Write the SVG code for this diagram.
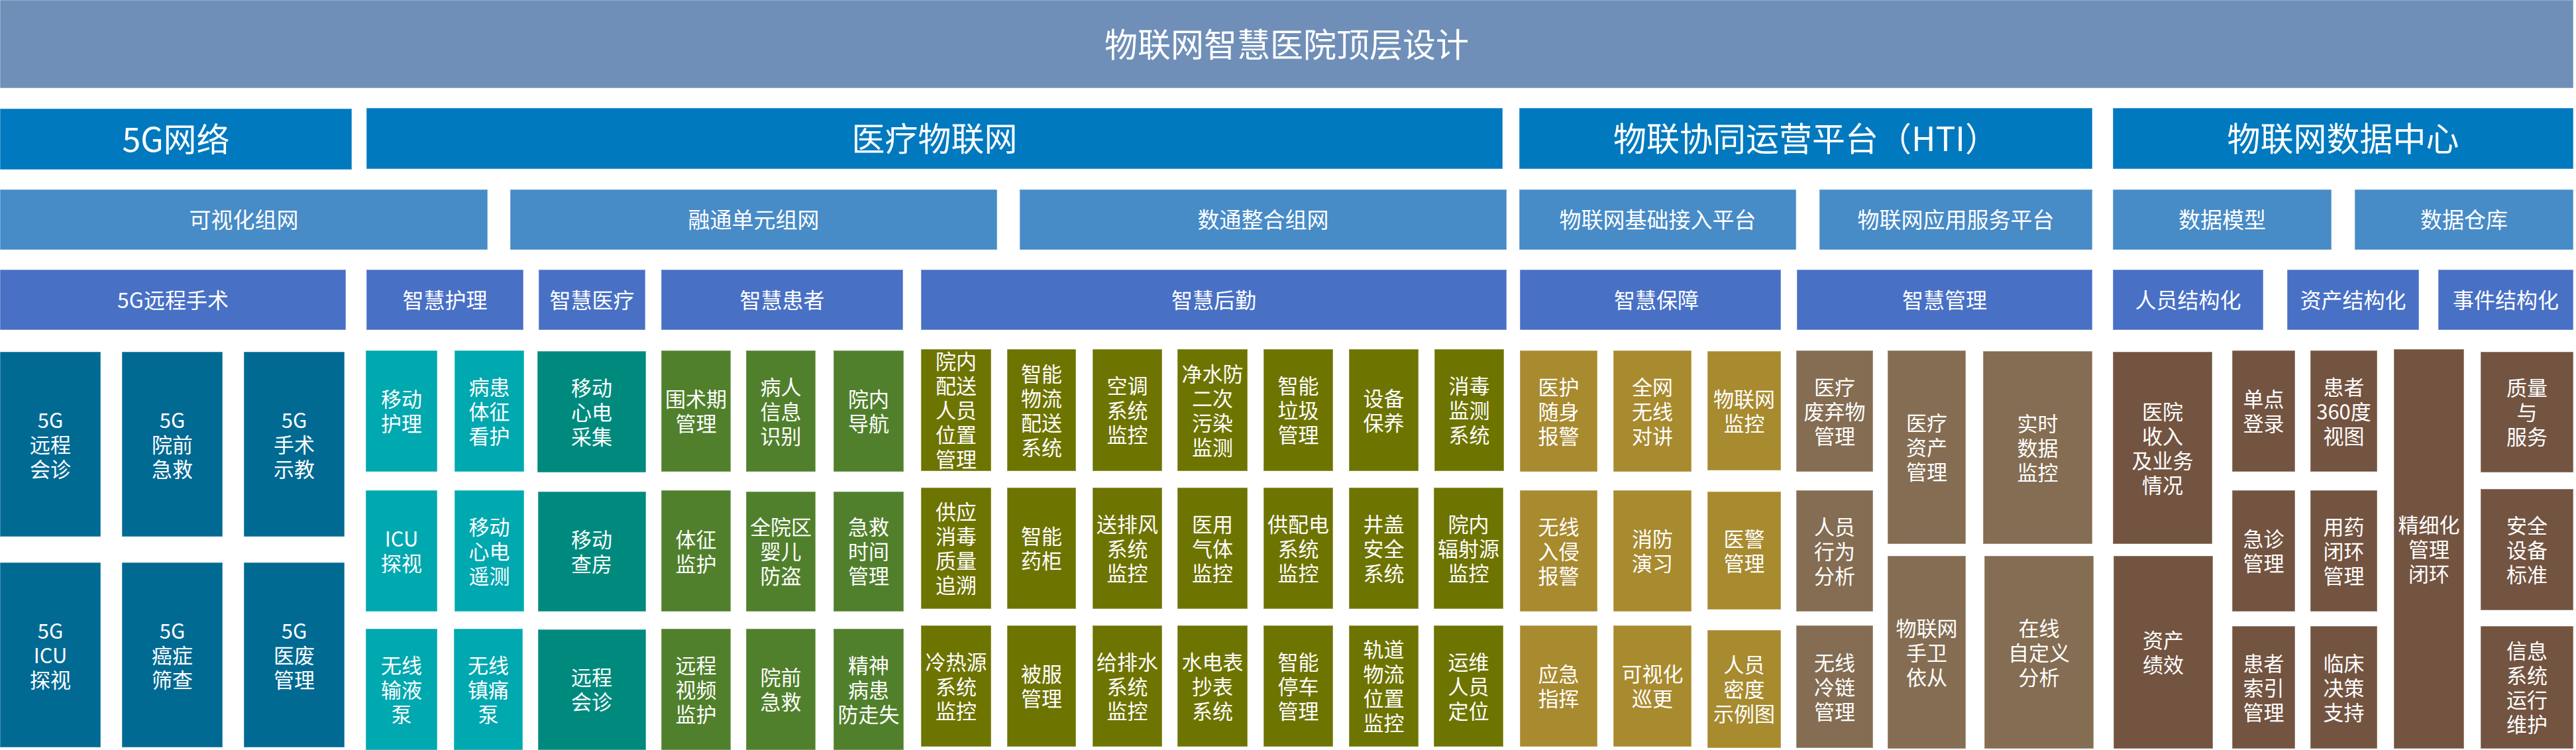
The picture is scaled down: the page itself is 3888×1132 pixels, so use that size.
<svg xmlns="http://www.w3.org/2000/svg" width="3888" height="1132" viewBox="0 0 3888 1132">
<style>
text{font-family:"Noto Sans CJK SC","Noto Sans CJK TC","Liberation Sans",sans-serif;fill:#ffffff;text-anchor:middle}
rect{stroke:#ffffff;stroke-opacity:0.35;stroke-width:1.5}
.t0{font-size:50px}.t1{font-size:50px}.t2{font-size:33px}.t3{font-size:32px}.t4{font-size:31px}
.c0{fill:#6F8FB8}.c1{fill:#0079BF}.c2{fill:#478BC7}.c3{fill:#4870C5}
.c4{fill:#016A93}.c5{fill:#00A8B0}.c6{fill:#008A7E}.c7{fill:#51802C}
.c8{fill:#6E7400}.c9{fill:#A88A2F}.c10{fill:#846D52}.c11{fill:#735441}
</style>
<rect width="3888" height="1132" fill="#ffffff" stroke="none"/>
<g id="connectors"/>
<g id="title"><rect class="c0" x="0" y="0" width="3884" height="133"/><text class="t0" x="1942" y="85.5">物联网智慧医院顶层设计</text></g>

<g id="l1-5g"><rect class="c1" x="0" y="164" width="531" height="92"/><text class="t1" x="265.5" y="228.5">5G网络</text></g>
<g id="l1-iot"><rect class="c1" x="553" y="163" width="1715" height="92"/><text class="t1" x="1410.5" y="227.5">医疗物联网</text></g>
<g id="l1-hti"><rect class="c1" x="2293" y="163" width="865" height="92"/><text class="t1" x="2725.5" y="227.5">物联协同运营平台（HTI）</text></g>
<g id="l1-dc"><rect class="c1" x="3189" y="163" width="695" height="92"/><text class="t1" x="3536.5" y="227.5">物联网数据中心</text></g>

<g id="l2-a"><rect class="c2" x="0" y="286" width="736" height="91"/><text class="t2" x="368" y="344">可视化组网</text></g>
<g id="l2-b"><rect class="c2" x="770" y="286" width="735" height="91"/><text class="t2" x="1137.5" y="344">融通单元组网</text></g>
<g id="l2-c"><rect class="c2" x="1539" y="286" width="735" height="91"/><text class="t2" x="1906.5" y="344">数通整合组网</text></g>
<g id="l2-d"><rect class="c2" x="2293" y="286" width="418" height="91"/><text class="t2" x="2502" y="344">物联网基础接入平台</text></g>
<g id="l2-e"><rect class="c2" x="2746" y="286" width="412" height="91"/><text class="t2" x="2952" y="344">物联网应用服务平台</text></g>
<g id="l2-f"><rect class="c2" x="3189" y="286" width="330" height="91"/><text class="t2" x="3354" y="344">数据模型</text></g>
<g id="l2-g"><rect class="c2" x="3554" y="286" width="330" height="91"/><text class="t2" x="3719" y="344">数据仓库</text></g>

<g id="l3-a"><rect class="c3" x="0" y="407" width="522" height="91"/><text class="t3" x="261" y="464.5">5G远程手术</text></g>
<g id="l3-b"><rect class="c3" x="553" y="407" width="237" height="91"/><text class="t3" x="671.5" y="464.5">智慧护理</text></g>
<g id="l3-c"><rect class="c3" x="813" y="407" width="161" height="91"/><text class="t3" x="893.5" y="464.5">智慧医疗</text></g>
<g id="l3-d"><rect class="c3" x="998" y="407" width="365" height="91"/><text class="t3" x="1180.5" y="464.5">智慧患者</text></g>
<g id="l3-e"><rect class="c3" x="1390" y="407" width="884" height="91"/><text class="t3" x="1832" y="464.5">智慧后勤</text></g>
<g id="l3-f"><rect class="c3" x="2294" y="407" width="394" height="91"/><text class="t3" x="2500" y="464.5">智慧保障</text></g>
<g id="l3-g"><rect class="c3" x="2712" y="407" width="446" height="91"/><text class="t3" x="2935" y="464.5">智慧管理</text></g>
<g id="l3-h"><rect class="c3" x="3189" y="407" width="227" height="91"/><text class="t3" x="3302.5" y="464.5">人员结构化</text></g>
<g id="l3-i"><rect class="c3" x="3452" y="407" width="199" height="91"/><text class="t3" x="3551.5" y="464.5">资产结构化</text></g>
<g id="l3-j"><rect class="c3" x="3680" y="407" width="204" height="91"/><text class="t3" x="3782" y="464.5">事件结构化</text></g>

<!-- 5G -->
<g id="n-5g1"><rect class="c4" x="0" y="531" width="152" height="279"/><text class="t4"><tspan x="76" y="645.5">5G</tspan><tspan x="76" y="682.5">远程</tspan><tspan x="76" y="719.5">会诊</tspan></text></g>
<g id="n-5g2"><rect class="c4" x="184" y="531" width="152" height="279"/><text class="t4"><tspan x="260" y="645.5">5G</tspan><tspan x="260" y="682.5">院前</tspan><tspan x="260" y="719.5">急救</tspan></text></g>
<g id="n-5g3"><rect class="c4" x="368" y="531" width="152" height="279"/><text class="t4"><tspan x="444" y="645.5">5G</tspan><tspan x="444" y="682.5">手术</tspan><tspan x="444" y="719.5">示教</tspan></text></g>
<g id="n-5g4"><rect class="c4" x="0" y="849" width="152" height="279"/><text class="t4"><tspan x="76" y="963.5">5G</tspan><tspan x="76" y="1000.5">ICU</tspan><tspan x="76" y="1037.5">探视</tspan></text></g>
<g id="n-5g5"><rect class="c4" x="184" y="849" width="152" height="279"/><text class="t4"><tspan x="260" y="963.5">5G</tspan><tspan x="260" y="1000.5">癌症</tspan><tspan x="260" y="1037.5">筛查</tspan></text></g>
<g id="n-5g6"><rect class="c4" x="368" y="849" width="152" height="279"/><text class="t4"><tspan x="444" y="963.5">5G</tspan><tspan x="444" y="1000.5">医废</tspan><tspan x="444" y="1037.5">管理</tspan></text></g>

<!-- nursing -->
<g id="n-hl1"><rect class="c5" x="552" y="529" width="108" height="183"/><text class="t4"><tspan x="606" y="614">移动</tspan><tspan x="606" y="651">护理</tspan></text></g>
<g id="n-hl2"><rect class="c5" x="686" y="529" width="105" height="183"/><text class="t4"><tspan x="738.5" y="595.5">病患</tspan><tspan x="738.5" y="632.5">体征</tspan><tspan x="738.5" y="669.5">看护</tspan></text></g>
<g id="n-hl3"><rect class="c5" x="552" y="740" width="108" height="183"/><text class="t4"><tspan x="606" y="825">ICU</tspan><tspan x="606" y="862">探视</tspan></text></g>
<g id="n-hl4"><rect class="c5" x="686" y="740" width="105" height="183"/><text class="t4"><tspan x="738.5" y="806.5">移动</tspan><tspan x="738.5" y="843.5">心电</tspan><tspan x="738.5" y="880.5">遥测</tspan></text></g>
<g id="n-hl5"><rect class="c5" x="552" y="949" width="108" height="183"/><text class="t4"><tspan x="606" y="1015.5">无线</tspan><tspan x="606" y="1052.5">输液</tspan><tspan x="606" y="1089.5">泵</tspan></text></g>
<g id="n-hl6"><rect class="c5" x="685" y="949" width="104" height="183"/><text class="t4"><tspan x="737" y="1015.5">无线</tspan><tspan x="737" y="1052.5">镇痛</tspan><tspan x="737" y="1089.5">泵</tspan></text></g>

<!-- medical -->
<g id="n-yl1"><rect class="c6" x="811" y="530" width="164" height="183"/><text class="t4"><tspan x="893" y="596.5">移动</tspan><tspan x="893" y="633.5">心电</tspan><tspan x="893" y="670.5">采集</tspan></text></g>
<g id="n-yl2"><rect class="c6" x="812" y="742" width="163" height="181"/><text class="t4"><tspan x="893" y="826">移动</tspan><tspan x="893" y="863">查房</tspan></text></g>
<g id="n-yl3"><rect class="c6" x="812" y="950" width="163" height="182"/><text class="t4"><tspan x="893" y="1034">远程</tspan><tspan x="893" y="1071">会诊</tspan></text></g>

<!-- patient -->
<g id="n-hz1"><rect class="c7" x="998" y="529" width="105" height="183"/><text class="t4"><tspan x="1050.5" y="614">围术期</tspan><tspan x="1050.5" y="651">管理</tspan></text></g>
<g id="n-hz2"><rect class="c7" x="1126" y="529" width="105" height="183"/><text class="t4"><tspan x="1178.5" y="595.5">病人</tspan><tspan x="1178.5" y="632.5">信息</tspan><tspan x="1178.5" y="669.5">识别</tspan></text></g>
<g id="n-hz3"><rect class="c7" x="1258" y="529" width="106" height="183"/><text class="t4"><tspan x="1311" y="614">院内</tspan><tspan x="1311" y="651">导航</tspan></text></g>
<g id="n-hz4"><rect class="c7" x="998" y="740" width="105" height="183"/><text class="t4"><tspan x="1050.5" y="825.5">体征</tspan><tspan x="1050.5" y="862.5">监护</tspan></text></g>
<g id="n-hz5"><rect class="c7" x="1126" y="742" width="105" height="181"/><text class="t4"><tspan x="1178.5" y="807">全院区</tspan><tspan x="1178.5" y="844">婴儿</tspan><tspan x="1178.5" y="881">防盗</tspan></text></g>
<g id="n-hz6"><rect class="c7" x="1258" y="742" width="106" height="181"/><text class="t4"><tspan x="1311" y="807">急救</tspan><tspan x="1311" y="844">时间</tspan><tspan x="1311" y="881">管理</tspan></text></g>
<g id="n-hz7"><rect class="c7" x="998" y="949" width="105" height="183"/><text class="t4"><tspan x="1050.5" y="1015.5">远程</tspan><tspan x="1050.5" y="1052.5">视频</tspan><tspan x="1050.5" y="1089.5">监护</tspan></text></g>
<g id="n-hz8"><rect class="c7" x="1126" y="949" width="105" height="183"/><text class="t4"><tspan x="1178.5" y="1034">院前</tspan><tspan x="1178.5" y="1071">急救</tspan></text></g>
<g id="n-hz9"><rect class="c7" x="1258" y="949" width="106" height="183"/><text class="t4"><tspan x="1311" y="1015.5">精神</tspan><tspan x="1311" y="1052.5">病患</tspan><tspan x="1311" y="1089.5">防走失</tspan></text></g>

<!-- logistics row 1 -->
<g id="n-hq1"><rect class="c8" x="1390" y="527" width="106" height="184"/><text class="t4"><tspan x="1443" y="557">院内</tspan><tspan x="1443" y="594">配送</tspan><tspan x="1443" y="631">人员</tspan><tspan x="1443" y="668">位置</tspan><tspan x="1443" y="705">管理</tspan></text></g>
<g id="n-hq2"><rect class="c8" x="1520" y="527" width="104" height="184"/><text class="t4"><tspan x="1572" y="575.5">智能</tspan><tspan x="1572" y="612.5">物流</tspan><tspan x="1572" y="649.5">配送</tspan><tspan x="1572" y="686.5">系统</tspan></text></g>
<g id="n-hq3"><rect class="c8" x="1649" y="527" width="105" height="184"/><text class="t4"><tspan x="1701.5" y="594">空调</tspan><tspan x="1701.5" y="631">系统</tspan><tspan x="1701.5" y="668">监控</tspan></text></g>
<g id="n-hq4"><rect class="c8" x="1777" y="527" width="106" height="184"/><text class="t4"><tspan x="1830" y="575.5">净水防</tspan><tspan x="1830" y="612.5">二次</tspan><tspan x="1830" y="649.5">污染</tspan><tspan x="1830" y="686.5">监测</tspan></text></g>
<g id="n-hq5"><rect class="c8" x="1907" y="527" width="105" height="184"/><text class="t4"><tspan x="1959.5" y="594">智能</tspan><tspan x="1959.5" y="631">垃圾</tspan><tspan x="1959.5" y="668">管理</tspan></text></g>
<g id="n-hq6"><rect class="c8" x="2036" y="527" width="105" height="184"/><text class="t4"><tspan x="2088.5" y="612.5">设备</tspan><tspan x="2088.5" y="649.5">保养</tspan></text></g>
<g id="n-hq7"><rect class="c8" x="2165" y="527" width="105" height="184"/><text class="t4"><tspan x="2217.5" y="594">消毒</tspan><tspan x="2217.5" y="631">监测</tspan><tspan x="2217.5" y="668">系统</tspan></text></g>
<!-- logistics row 2 -->
<g id="n-hq8"><rect class="c8" x="1390" y="736" width="106" height="183"/><text class="t4"><tspan x="1443" y="784">供应</tspan><tspan x="1443" y="821">消毒</tspan><tspan x="1443" y="858">质量</tspan><tspan x="1443" y="895">追溯</tspan></text></g>
<g id="n-hq9"><rect class="c8" x="1520" y="736" width="104" height="183"/><text class="t4"><tspan x="1572" y="821">智能</tspan><tspan x="1572" y="858">药柜</tspan></text></g>
<g id="n-hq10"><rect class="c8" x="1649" y="736" width="105" height="183"/><text class="t4"><tspan x="1701.5" y="802.5">送排风</tspan><tspan x="1701.5" y="839.5">系统</tspan><tspan x="1701.5" y="876.5">监控</tspan></text></g>
<g id="n-hq11"><rect class="c8" x="1777" y="736" width="106" height="183"/><text class="t4"><tspan x="1830" y="802.5">医用</tspan><tspan x="1830" y="839.5">气体</tspan><tspan x="1830" y="876.5">监控</tspan></text></g>
<g id="n-hq12"><rect class="c8" x="1907" y="736" width="105" height="183"/><text class="t4"><tspan x="1959.5" y="802.5">供配电</tspan><tspan x="1959.5" y="839.5">系统</tspan><tspan x="1959.5" y="876.5">监控</tspan></text></g>
<g id="n-hq13"><rect class="c8" x="2036" y="736" width="105" height="183"/><text class="t4"><tspan x="2088.5" y="802.5">井盖</tspan><tspan x="2088.5" y="839.5">安全</tspan><tspan x="2088.5" y="876.5">系统</tspan></text></g>
<g id="n-hq14"><rect class="c8" x="2164" y="736" width="105" height="183"/><text class="t4"><tspan x="2216.5" y="802.5">院内</tspan><tspan x="2216.5" y="839.5">辐射源</tspan><tspan x="2216.5" y="876.5">监控</tspan></text></g>
<!-- logistics row 3 -->
<g id="n-hq15"><rect class="c8" x="1390" y="944" width="106" height="183"/><text class="t4"><tspan x="1443" y="1010.5">冷热源</tspan><tspan x="1443" y="1047.5">系统</tspan><tspan x="1443" y="1084.5">监控</tspan></text></g>
<g id="n-hq16"><rect class="c8" x="1520" y="944" width="104" height="183"/><text class="t4"><tspan x="1572" y="1029">被服</tspan><tspan x="1572" y="1066">管理</tspan></text></g>
<g id="n-hq17"><rect class="c8" x="1649" y="944" width="105" height="183"/><text class="t4"><tspan x="1701.5" y="1010.5">给排水</tspan><tspan x="1701.5" y="1047.5">系统</tspan><tspan x="1701.5" y="1084.5">监控</tspan></text></g>
<g id="n-hq18"><rect class="c8" x="1777" y="944" width="106" height="183"/><text class="t4"><tspan x="1830" y="1010.5">水电表</tspan><tspan x="1830" y="1047.5">抄表</tspan><tspan x="1830" y="1084.5">系统</tspan></text></g>
<g id="n-hq19"><rect class="c8" x="1907" y="944" width="105" height="183"/><text class="t4"><tspan x="1959.5" y="1010.5">智能</tspan><tspan x="1959.5" y="1047.5">停车</tspan><tspan x="1959.5" y="1084.5">管理</tspan></text></g>
<g id="n-hq20"><rect class="c8" x="2036" y="944" width="105" height="183"/><text class="t4"><tspan x="2088.5" y="992">轨道</tspan><tspan x="2088.5" y="1029">物流</tspan><tspan x="2088.5" y="1066">位置</tspan><tspan x="2088.5" y="1103">监控</tspan></text></g>
<g id="n-hq21"><rect class="c8" x="2164" y="944" width="105" height="183"/><text class="t4"><tspan x="2216.5" y="1010.5">运维</tspan><tspan x="2216.5" y="1047.5">人员</tspan><tspan x="2216.5" y="1084.5">定位</tspan></text></g>

<!-- security -->
<g id="n-bz1"><rect class="c9" x="2294" y="529" width="117" height="183"/><text class="t4"><tspan x="2352.5" y="595.5">医护</tspan><tspan x="2352.5" y="632.5">随身</tspan><tspan x="2352.5" y="669.5">报警</tspan></text></g>
<g id="n-bz2"><rect class="c9" x="2435" y="529" width="118" height="183"/><text class="t4"><tspan x="2494" y="595.5">全网</tspan><tspan x="2494" y="632.5">无线</tspan><tspan x="2494" y="669.5">对讲</tspan></text></g>
<g id="n-bz3"><rect class="c9" x="2577" y="530" width="111" height="180"/><text class="t4"><tspan x="2632.5" y="614">物联网</tspan><tspan x="2632.5" y="651">监控</tspan></text></g>
<g id="n-bz4"><rect class="c9" x="2294" y="740" width="117" height="183"/><text class="t4"><tspan x="2352.5" y="806.5">无线</tspan><tspan x="2352.5" y="843.5">入侵</tspan><tspan x="2352.5" y="880.5">报警</tspan></text></g>
<g id="n-bz5"><rect class="c9" x="2435" y="740" width="118" height="183"/><text class="t4"><tspan x="2494" y="825">消防</tspan><tspan x="2494" y="862">演习</tspan></text></g>
<g id="n-bz6"><rect class="c9" x="2577" y="742" width="111" height="178"/><text class="t4"><tspan x="2632.5" y="825">医警</tspan><tspan x="2632.5" y="862">管理</tspan></text></g>
<g id="n-bz7"><rect class="c9" x="2294" y="944" width="117" height="183"/><text class="t4"><tspan x="2352.5" y="1029">应急</tspan><tspan x="2352.5" y="1066">指挥</tspan></text></g>
<g id="n-bz8"><rect class="c9" x="2435" y="944" width="118" height="183"/><text class="t4"><tspan x="2494" y="1029">可视化</tspan><tspan x="2494" y="1066">巡更</tspan></text></g>
<g id="n-bz9"><rect class="c9" x="2577" y="951" width="111" height="178"/><text class="t4"><tspan x="2632.5" y="1015">人员</tspan><tspan x="2632.5" y="1052">密度</tspan><tspan x="2632.5" y="1089">示例图</tspan></text></g>

<!-- management -->
<g id="n-gl1"><rect class="c10" x="2711" y="529" width="116" height="183"/><text class="t4"><tspan x="2769" y="595.5">医疗</tspan><tspan x="2769" y="632.5">废弃物</tspan><tspan x="2769" y="669.5">管理</tspan></text></g>
<g id="n-gl2"><rect class="c10" x="2711" y="740" width="116" height="183"/><text class="t4"><tspan x="2769" y="806.5">人员</tspan><tspan x="2769" y="843.5">行为</tspan><tspan x="2769" y="880.5">分析</tspan></text></g>
<g id="n-gl3"><rect class="c10" x="2711" y="944" width="116" height="185"/><text class="t4"><tspan x="2769" y="1011.5">无线</tspan><tspan x="2769" y="1048.5">冷链</tspan><tspan x="2769" y="1085.5">管理</tspan></text></g>
<g id="n-gl4"><rect class="c10" x="2849" y="529" width="118" height="292"/><text class="t4"><tspan x="2908" y="650">医疗</tspan><tspan x="2908" y="687">资产</tspan><tspan x="2908" y="724">管理</tspan></text></g>
<g id="n-gl5"><rect class="c10" x="2849" y="839" width="118" height="291"/><text class="t4"><tspan x="2908" y="959.5">物联网</tspan><tspan x="2908" y="996.5">手卫</tspan><tspan x="2908" y="1033.5">依从</tspan></text></g>
<g id="n-gl6"><rect class="c10" x="2993" y="530" width="165" height="291"/><text class="t4"><tspan x="3075.5" y="650.5">实时</tspan><tspan x="3075.5" y="687.5">数据</tspan><tspan x="3075.5" y="724.5">监控</tspan></text></g>
<g id="n-gl7"><rect class="c10" x="2995" y="839" width="165" height="291"/><text class="t4"><tspan x="3077.5" y="959.5">在线</tspan><tspan x="3077.5" y="996.5">自定义</tspan><tspan x="3077.5" y="1033.5">分析</tspan></text></g>

<!-- data center -->
<g id="n-dc1"><rect class="c11" x="3189" y="531" width="150" height="290"/><text class="t4"><tspan x="3264" y="632.5">医院</tspan><tspan x="3264" y="669.5">收入</tspan><tspan x="3264" y="706.5">及业务</tspan><tspan x="3264" y="743.5">情况</tspan></text></g>
<g id="n-dc2"><rect class="c11" x="3190" y="839" width="150" height="291"/><text class="t4"><tspan x="3265" y="978">资产</tspan><tspan x="3265" y="1015">绩效</tspan></text></g>
<g id="n-dc3"><rect class="c11" x="3369" y="529" width="95" height="183"/><text class="t4"><tspan x="3416.5" y="614">单点</tspan><tspan x="3416.5" y="651">登录</tspan></text></g>
<g id="n-dc4"><rect class="c11" x="3369" y="740" width="95" height="183"/><text class="t4"><tspan x="3416.5" y="825">急诊</tspan><tspan x="3416.5" y="862">管理</tspan></text></g>
<g id="n-dc5"><rect class="c11" x="3369" y="945" width="95" height="185"/><text class="t4"><tspan x="3416.5" y="1012.5">患者</tspan><tspan x="3416.5" y="1049.5">索引</tspan><tspan x="3416.5" y="1086.5">管理</tspan></text></g>
<g id="n-dc6"><rect class="c11" x="3487" y="529" width="101" height="183"/><text class="t4"><tspan x="3537.5" y="595.5">患者</tspan><tspan x="3537.5" y="632.5">360度</tspan><tspan x="3537.5" y="669.5">视图</tspan></text></g>
<g id="n-dc7"><rect class="c11" x="3487" y="740" width="101" height="183"/><text class="t4"><tspan x="3537.5" y="806.5">用药</tspan><tspan x="3537.5" y="843.5">闭环</tspan><tspan x="3537.5" y="880.5">管理</tspan></text></g>
<g id="n-dc8"><rect class="c11" x="3487" y="945" width="101" height="185"/><text class="t4"><tspan x="3537.5" y="1012.5">临床</tspan><tspan x="3537.5" y="1049.5">决策</tspan><tspan x="3537.5" y="1086.5">支持</tspan></text></g>
<g id="n-dc9"><rect class="c11" x="3613" y="527" width="106" height="603"/><text class="t4"><tspan x="3666" y="803.5">精细化</tspan><tspan x="3666" y="840.5">管理</tspan><tspan x="3666" y="877.5">闭环</tspan></text></g>
<g id="n-dc10"><rect class="c11" x="3744" y="531" width="140" height="182"/><text class="t4"><tspan x="3814" y="597">质量</tspan><tspan x="3814" y="634">与</tspan><tspan x="3814" y="671">服务</tspan></text></g>
<g id="n-dc11"><rect class="c11" x="3744" y="738" width="140" height="183"/><text class="t4"><tspan x="3814" y="804.5">安全</tspan><tspan x="3814" y="841.5">设备</tspan><tspan x="3814" y="878.5">标准</tspan></text></g>
<g id="n-dc12"><rect class="c11" x="3744" y="945" width="140" height="185"/><text class="t4"><tspan x="3814" y="994">信息</tspan><tspan x="3814" y="1031">系统</tspan><tspan x="3814" y="1068">运行</tspan><tspan x="3814" y="1105">维护</tspan></text></g>
</svg>
